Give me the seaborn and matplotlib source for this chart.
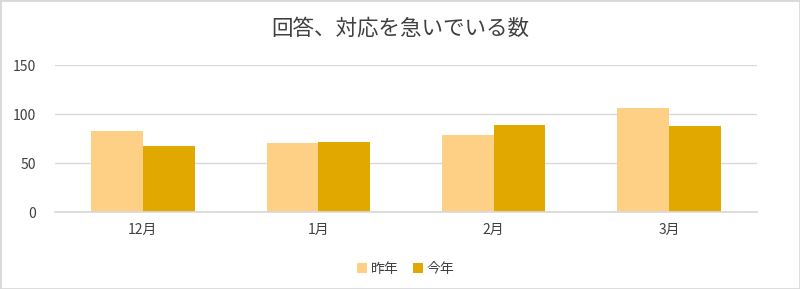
import matplotlib
matplotlib.use("Agg")
import matplotlib.pyplot as plt
import seaborn as sns
import pandas as pd
from matplotlib.patches import Rectangle

categories = ["12月", "1月", "2月", "3月"]
series_names = ["昨年", "今年"]
last_year = [83, 70, 79, 106]
this_year = [67, 71, 89, 88]
yticks = [0, 50, 100, 150]
title = "回答、対応を急いでいる数"

sns.set_theme(style="white")
plt.rcParams['font.family'] = ['Noto Sans CJK JP', 'DejaVu Sans']

df = pd.DataFrame({
    "month": categories * 2,
    "series": [series_names[0]] * 4 + [series_names[1]] * 4,
    "value": last_year + this_year,
})

fig = plt.figure(figsize=(8, 2.89), dpi=100)
ax = fig.add_axes([0.069, 0.266, 0.877, 0.509])
sns.barplot(data=df, x="month", y="value", hue="series", order=categories,
            hue_order=series_names, palette=["#FED085", "#E1A800"],
            width=0.59, gap=0, ax=ax, legend=True, saturation=1,
            edgecolor="none")

ax.set_ylim(0, 150)
ax.set_yticks(yticks)
ax.set_yticklabels([str(v) for v in yticks])
ax.set_xlim(-0.5, 3.5)
ax.set_xlabel("")
ax.set_ylabel("")
ax.yaxis.grid(True, color="#d9d9d9", linewidth=1)
ax.set_axisbelow(True)
for s in ["top", "right", "left"]:
    ax.spines[s].set_visible(False)
ax.spines["bottom"].set_color("#d9d9d9")
ax.tick_params(axis="y", length=0, pad=14, labelsize=10, labelcolor="#404040")
ax.tick_params(axis="x", length=0, pad=8, labelsize=10, labelcolor="#404040")

leg = ax.legend(loc="upper center", bbox_to_anchor=(0.5, -0.255), ncol=2,
                frameon=False, fontsize=10, handlelength=0.7, handleheight=0.7,
                handletextpad=0.3, columnspacing=1.0)
for t in leg.get_texts():
    t.set_color("#404040")

fig.text(0.5, 0.9, title, ha="center", va="center", fontsize=15.5, color="#404040")

fig.patches.append(Rectangle((0, 0), 1, 1, transform=fig.transFigure, fill=False,
                             edgecolor="#d9d9d9", linewidth=2))

fig.savefig("out.png", dpi=100)
